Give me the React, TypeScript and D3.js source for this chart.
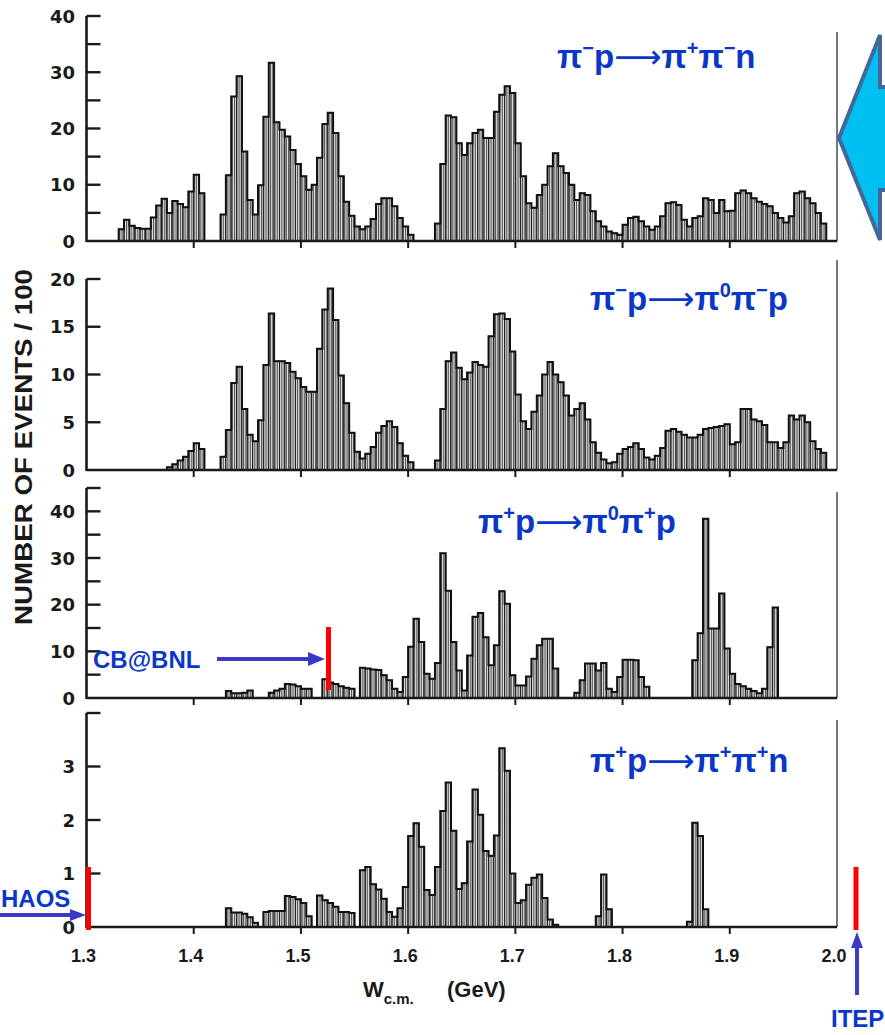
import { useEffect, useRef } from 'react';
import * as d3 from 'd3';

const binWidth = 0.005;
const xTicks = [1.3, 1.4, 1.5, 1.6, 1.7, 1.8, 1.9, 2.0];

// pi- p -> pi+ pi- n
const pimPipPimN = [
  { from: 1.33, counts: [2.1, 3.8, 2.7, 2.3, 2.2, 2.2, 4.2, 6.3, 7.5, 5.0, 7.1, 6.6, 6.0, 8.8, 11.8, 8.5] },
  {
    from: 1.425,
    counts: [4.7, 11.7, 25.7, 29.3, 15.9, 7.3, 4.7, 9.9, 22.1, 31.7, 21.1, 19.8, 18.6, 16.2, 13.7, 11.5, 9.1, 10.0,
      14.8, 20.8, 22.8, 19.2, 11.5, 7.0, 4.5, 2.6, 2.1, 2.6, 3.9, 6.6, 7.6, 7.6, 6.2, 4.1, 2.6, 1.1],
  },
  {
    from: 1.625,
    counts: [3.1, 13.7, 22.3, 22.0, 17.4, 15.3, 17.4, 19.2, 19.8, 18.3, 18.3, 23.0, 26.0, 27.5, 26.3, 17.4, 11.5, 6.7,
      5.9, 8.2, 10.0, 13.3, 15.6, 13.3, 12.1, 10.0, 7.3, 8.5, 8.2, 5.3, 3.5, 2.6, 1.7, 1.4, 1.1, 2.9, 4.1, 4.3, 3.5,
      2.6, 2.0, 2.6, 4.4, 6.7, 6.9, 6.4, 3.8, 2.6, 4.1, 4.4, 7.6, 7.3, 5.0, 7.3, 5.3, 5.4, 8.5, 9.0, 8.5, 7.6, 7.0,
      6.6, 6.2, 5.0, 4.1, 3.3, 4.4, 8.5, 8.8, 7.6, 6.7, 5.0, 3.1],
  },
];

// pi- p -> pi0 pi- p
const pimPi0PimP = [
  { from: 1.375, counts: [0.3, 0.6, 1.0, 1.4, 2.0, 2.8, 2.2] },
  {
    from: 1.425,
    counts: [1.4, 4.2, 9.1, 10.8, 6.4, 3.7, 3.0, 5.2, 11.0, 16.4, 11.4, 11.4, 11.2, 10.3, 9.6, 8.7, 8.2, 8.2, 12.7,
      16.8, 19.0, 15.7, 9.9, 7.0, 3.9, 1.9, 1.2, 1.7, 2.4, 3.9, 4.6, 5.1, 4.5, 2.8, 1.5, 0.8],
  },
  {
    from: 1.625,
    counts: [1.0, 6.4, 11.4, 12.3, 10.7, 9.5, 10.2, 11.3, 11.0, 10.8, 14.0, 16.3, 16.4, 15.8, 12.4, 7.9, 5.1, 4.3,
      6.1, 7.8, 10.0, 11.3, 10.0, 9.2, 7.8, 5.7, 6.4, 7.0, 5.3, 2.9, 1.8, 1.1, 0.7, 0.8, 1.7, 2.2, 2.4, 2.8, 2.2, 1.3,
      1.1, 1.5, 2.3, 4.1, 4.3, 4.0, 3.7, 3.4, 3.4, 3.7, 4.3, 4.4, 4.5, 4.6, 4.8, 2.7, 2.9, 6.4, 6.4, 5.3, 5.1, 4.7,
      2.9, 2.9, 2.3, 2.9, 5.7, 5.3, 5.7, 5.0, 3.0, 2.2, 1.8],
  },
];

// pi+ p -> pi0 pi+ p
const pipPi0PipP = [
  { from: 1.43, counts: [1.5, 1.0, 1.0, 1.1, 1.6] },
  { from: 1.47, counts: [1.1, 1.6, 2.0, 3.0, 2.9, 2.5, 2.0, 2.0] },
  { from: 1.52, counts: [4.0, 3.3, 3.0, 2.5, 2.2, 2.0] },
  {
    from: 1.555,
    counts: [6.5, 6.3, 6.1, 6.0, 4.9, 3.8, 2.0, 1.3, 4.5, 11.0, 17.0, 12.0, 5.2, 4.1, 7.5, 31.0, 23.0, 12.0, 5.9, 1.6,
      9.1, 17.4, 18.2, 13.0, 7.0, 11.3, 22.9, 20.2, 4.9, 2.7, 2.7, 4.6, 8.4, 11.3, 12.7, 12.7, 6.3],
  },
  { from: 1.755, counts: [1.1, 3.8, 7.4, 7.4, 5.9, 7.5, 2.0, 1.3, 4.5, 8.2, 8.2, 8.1, 4.5, 2.4] },
  { from: 1.865, counts: [8.1, 13.9, 38.4, 14.9, 14.9, 22.4, 10.6, 5.2, 3.0, 2.5, 2.0, 1.5, 1.0, 2.0, 10.9, 19.4] },
];

// pi+ p -> pi+ pi+ n
const pipPipPipN = [
  { from: 1.43, counts: [0.35, 0.27, 0.27, 0.25, 0.18, 0.08] },
  { from: 1.465, counts: [0.28, 0.3, 0.3, 0.3, 0.58, 0.56, 0.52, 0.45, 0.2] },
  { from: 1.515, counts: [0.59, 0.5, 0.45, 0.38, 0.28, 0.28, 0.26] },
  {
    from: 1.555,
    counts: [1.06, 1.12, 0.8, 0.7, 0.53, 0.28, 0.19, 0.35, 0.75, 1.7, 1.94, 1.5, 0.69, 0.6, 1.12, 2.17, 2.7, 1.8, 0.71,
      0.82, 1.6, 2.57, 2.1, 1.42, 1.33, 1.71, 3.34, 2.92, 1.0, 0.45, 0.5, 0.79, 0.92, 0.98, 0.54, 0.14, 0.04],
  },
  { from: 1.775, counts: [0.2, 0.98, 0.33] },
  { from: 1.86, counts: [0.1, 1.95, 1.7, 0.33] },
];

const BLUE_TEXT = '#0a37c8';
const BLUE_ARROW = '#3a3ac8';
const RED = '#ff0000';
const INK = '#1a1a1a';
const FONT = '"Liberation Sans", Arial, sans-serif';
const TICK_FONT = '"DejaVu Sans", sans-serif';

const panels = [
  { data: pimPipPimN, yMax: 40, base: 241, top: 16, ticks: d3.range(5, 41, 5), labels: [0, 10, 20, 30, 40], rightTop: 32,
    title: ['π', '^−', 'p', '→', 'π', '^+', 'π', '^−', 'n'], tx: 557, ty: 68 },
  { data: pimPi0PimP, yMax: 20, base: 470, top: 279, ticks: d3.range(5, 21, 5), labels: [0, 5, 10, 15, 20], rightTop: 260,
    title: ['π', '^−', 'p', '→', 'π', '^0', 'π', '^−', 'p'], tx: 590, ty: 310 },
  { data: pipPi0PipP, yMax: 45, base: 698, top: 488, ticks: d3.range(5, 46, 5), labels: [0, 10, 20, 30, 40], rightTop: 492,
    title: ['π', '^+', 'p', '→', 'π', '^0', 'π', '^+', 'p'], tx: 478, ty: 533 },
  { data: pipPipPipN, yMax: 4, base: 927, top: 713, ticks: [1, 2, 3, 4], labels: [0, 1, 2, 3], rightTop: 720,
    title: ['π', '^+', 'p', '→', 'π', '^+', 'π', '^+', 'n'], tx: 590, ty: 772 },
];

const App = () => {
  const ref = useRef<SVGSVGElement>(null);

  useEffect(() => {
    const svg = d3.select(ref.current);
    svg.selectAll('*').remove();

    const x = d3.scaleLinear().domain([1.3, 2.0]).range([86.5, 837]);

    const defs = svg.append('defs');
    const pat = defs
      .append('pattern')
      .attr('id', 'hatch')
      .attr('patternUnits', 'userSpaceOnUse')
      .attr('width', 1.8)
      .attr('height', 4);
    pat.append('rect').attr('width', 1.8).attr('height', 4).attr('fill', '#e4e4e4');
    pat.append('rect').attr('width', 0.9).attr('height', 4).attr('fill', '#555');

    panels.forEach((p, pi) => {
      const y = d3.scaleLinear().domain([0, p.yMax]).range([p.base, p.top]);
      const g = svg.append('g');

      // bars
      p.data.forEach((seg) => {
        g.selectAll(null)
          .data(seg.counts)
          .enter()
          .append('rect')
          .attr('x', (_, i) => x(seg.from + i * binWidth))
          .attr('y', (d) => y(d))
          .attr('width', (_, i) => x(seg.from + (i + 1) * binWidth) - x(seg.from + i * binWidth))
          .attr('height', (d) => p.base - y(d))
          .attr('fill', 'url(#hatch)')
          .attr('stroke', '#222')
          .attr('stroke-width', 1);

        // step outline
        const path = d3.path();
        path.moveTo(x(seg.from), p.base);
        seg.counts.forEach((c, i) => {
          path.lineTo(x(seg.from + i * binWidth), y(c));
          path.lineTo(x(seg.from + (i + 1) * binWidth), y(c));
        });
        path.lineTo(x(seg.from + seg.counts.length * binWidth), p.base);
        g.append('path')
          .attr('d', path.toString())
          .attr('fill', 'none')
          .attr('stroke', '#111')
          .attr('stroke-width', 2);
      });

      // right frame line
      g.append('line')
        .attr('x1', x(2.0)).attr('x2', x(2.0))
        .attr('y1', p.rightTop).attr('y2', p.base)
        .attr('stroke', '#555').attr('stroke-width', 1.6);

      // bottom axis
      g.append('line')
        .attr('x1', x(1.3)).attr('x2', x(2.0))
        .attr('y1', p.base).attr('y2', p.base)
        .attr('stroke', INK).attr('stroke-width', 2.4);
      g.selectAll(null)
        .data(xTicks.slice(1, -1))
        .enter()
        .append('line')
        .attr('x1', (d) => x(d)).attr('x2', (d) => x(d))
        .attr('y1', p.base).attr('y2', p.base + 7)
        .attr('stroke', INK).attr('stroke-width', 2);

      // left axis
      g.append('line')
        .attr('x1', x(1.3)).attr('x2', x(1.3))
        .attr('y1', p.base + 1).attr('y2', y(p.yMax))
        .attr('stroke', INK).attr('stroke-width', 2.6);
      g.selectAll(null)
        .data(p.ticks)
        .enter()
        .append('line')
        .attr('x1', x(1.3)).attr('x2', x(1.3) + 14)
        .attr('y1', (d) => y(d)).attr('y2', (d) => y(d))
        .attr('stroke', INK).attr('stroke-width', 2.4);
      g.selectAll(null)
        .data(p.labels)
        .enter()
        .append('text')
        .attr('x', 75)
        .attr('y', (d) => y(d) + 6.5)
        .attr('text-anchor', 'end')
        .attr('font-family', TICK_FONT)
        .attr('font-weight', 700)
        .attr('font-size', 18)
        .attr('fill', INK)
        .text((d) => String(d));

      // x tick labels on the bottom panel
      if (pi === panels.length - 1) {
        g.selectAll(null)
          .data(xTicks)
          .enter()
          .append('text')
          .attr('x', (d) => x(d) - 3)
          .attr('y', 962)
          .attr('text-anchor', 'middle')
          .attr('font-family', FONT)
          .attr('font-weight', 700)
          .attr('font-size', 18)
          .attr('fill', INK)
          .text((d) => d.toFixed(1));
      }

      // reaction title
      const t = g.append('text')
        .attr('x', p.tx)
        .attr('y', p.ty)
        .attr('font-family', FONT)
        .attr('font-weight', 700)
        .attr('font-size', 33)
        .attr('fill', BLUE_TEXT);
      let raised = false;
      p.title.forEach((part) => {
        const sup = part.startsWith('^');
        const s = t.append('tspan').text(sup ? part.slice(1) : part);
        if (sup) {
          s.attr('font-size', 20).attr('dy', -13);
          raised = true;
        } else if (raised) {
          s.attr('dy', 13);
          raised = false;
        }
        if (part === '→') s.attr('font-family', '"DejaVu Sans", sans-serif').text('⟶').attr('font-weight', 400);
      });
    });

    // y-axis title
    svg.append('text')
      .attr('transform', 'translate(32,447) rotate(-90)')
      .attr('text-anchor', 'middle')
      .attr('font-family', FONT)
      .attr('font-weight', 700)
      .attr('font-size', 23)
      .attr('fill', INK)
      .attr('textLength', 356)
      .attr('lengthAdjust', 'spacingAndGlyphs')
      .text('NUMBER OF EVENTS / 100');

    // x-axis title
    const xt = svg.append('text')
      .attr('x', 363)
      .attr('y', 997)
      .attr('font-family', FONT)
      .attr('font-weight', 700)
      .attr('font-size', 22)
      .attr('fill', INK);
    xt.append('tspan').text('W');
    xt.append('tspan').attr('font-size', 15).attr('dy', 7).text('c.m.');
    xt.append('tspan').attr('x', 447).attr('dy', -7).text('(GeV)');

    // annotations
    const ann = svg.append('g');
    const arrowHead = (pts: [number, number][]) =>
      ann.append('polygon').attr('points', pts.map((q) => q.join(',')).join(' ')).attr('fill', BLUE_ARROW);

    // CB@BNL
    ann.append('text').attr('x', 93).attr('y', 668)
      .attr('font-family', FONT).attr('font-weight', 700).attr('font-size', 24)
      .attr('fill', BLUE_TEXT).text('CB@BNL');
    ann.append('line').attr('x1', 217).attr('x2', 312).attr('y1', 659).attr('y2', 659)
      .attr('stroke', BLUE_ARROW).attr('stroke-width', 4);
    arrowHead([[308, 652], [325, 659], [308, 666]]);
    ann.append('line').attr('x1', 328.5).attr('x2', 328.5).attr('y1', 627).attr('y2', 690)
      .attr('stroke', RED).attr('stroke-width', 5);

    // HAOS
    ann.append('text').attr('x', 1).attr('y', 907)
      .attr('font-family', FONT).attr('font-weight', 700).attr('font-size', 24)
      .attr('fill', BLUE_TEXT).text('HAOS');
    ann.append('line').attr('x1', 0).attr('x2', 74).attr('y1', 915).attr('y2', 915)
      .attr('stroke', BLUE_ARROW).attr('stroke-width', 4);
    arrowHead([[70, 909], [86, 915], [70, 921]]);
    ann.append('line').attr('x1', 88.5).attr('x2', 88.5).attr('y1', 867).attr('y2', 930)
      .attr('stroke', RED).attr('stroke-width', 5);

    // ITEP
    ann.append('line').attr('x1', 856).attr('x2', 856).attr('y1', 867).attr('y2', 930)
      .attr('stroke', RED).attr('stroke-width', 5);
    ann.append('line').attr('x1', 857).attr('x2', 857).attr('y1', 995).attr('y2', 945)
      .attr('stroke', BLUE_ARROW).attr('stroke-width', 4);
    arrowHead([[851, 948], [857, 932], [863, 948]]);
    ann.append('text').attr('x', 831).attr('y', 1027)
      .attr('font-family', FONT).attr('font-weight', 700).attr('font-size', 24)
      .attr('fill', BLUE_TEXT).text('ITEP');

    // big block arrow on the right edge
    ann.append('polygon')
      .attr('points', '839,138 880,35 880,87 900,87 900,190 880,190 880,240')
      .attr('fill', '#00c0f2')
      .attr('stroke', '#41689a')
      .attr('stroke-width', 4)
      .attr('stroke-linejoin', 'miter');
  }, []);

  return (
    <svg
      ref={ref}
      width={885}
      height={1035}
      style={{ position: 'absolute', left: 0, top: 0, background: '#fff' }}
    />
  );
};

export default App;
